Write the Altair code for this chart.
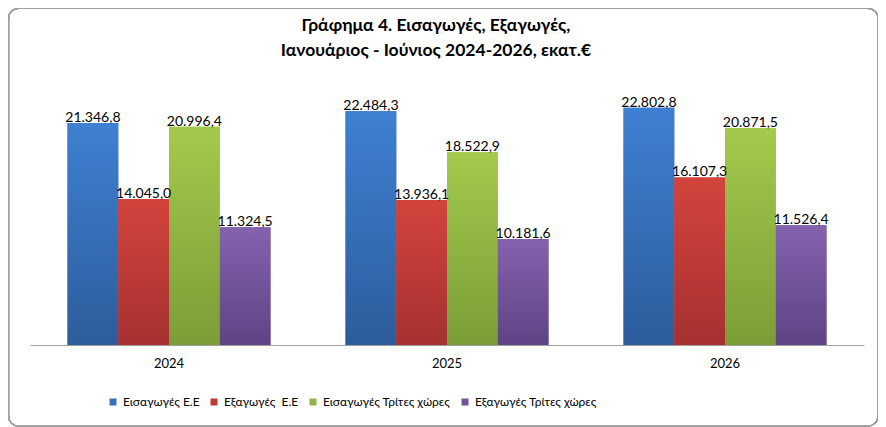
import altair as alt
import pandas as pd

years = ["2024", "2025", "2026"]
series = ["Εισαγωγές Ε.Ε", "Εξαγωγές\u00a0 Ε.Ε", "Εισαγωγές Τρίτες χώρες", "Εξαγωγές Τρίτες χώρες"]
imports_eu = [21346.8, 22484.3, 22802.8]
exports_eu = [14045.0, 13936.1, 16107.3]
imports_third = [20996.4, 18522.9, 20871.5]
exports_third = [11324.5, 10181.6, 11526.4]

mid_colors = ["#3670BA", "#BD3A36", "#8FB443", "#72549A"]
top_colors = ["#3E80D2", "#D3433D", "#A3CA4C", "#8462AE"]
bot_colors = ["#2D5C9B", "#A53130", "#7B9D38", "#5E4484"]

rows = []
for s, vals in zip(series, [imports_eu, exports_eu, imports_third, exports_third]):
    for y, v in zip(years, vals):
        lbl = f"{v:,.1f}".replace(",", "X").replace(".", ",").replace("X", ".")
        rows.append({"year": y, "series": s, "value": v, "label": lbl})
df = pd.DataFrame(rows)

FONT = "Lato"

x_enc = alt.X("year:N", sort=years,
              scale=alt.Scale(paddingInner=0.27, paddingOuter=0.135),
              axis=alt.Axis(title=None, labelAngle=0, ticks=False, domainColor="#a0a0a0",
                            labelFontSize=13, labelColor="#000000", labelFont=FONT,
                            labelPadding=12, grid=False))
xo_enc = alt.XOffset("series:N", sort=series, scale=alt.Scale(domain=series, paddingInner=0, paddingOuter=0))
y_enc = alt.Y("value:Q", scale=alt.Scale(domain=[0, 25000]), axis=None)

base = alt.Chart(df).mark_bar().encode(
    x=x_enc, xOffset=xo_enc, y=y_enc,
    color=alt.Color("series:N", sort=series,
                    scale=alt.Scale(domain=series, range=mid_colors),
                    legend=alt.Legend(title=None, orient="none", direction="horizontal",
                                      legendX=77, legendY=311, symbolType="square",
                                      symbolSize=49, symbolStrokeWidth=0,
                                      labelFontSize=12, labelFont=FONT, labelColor="#000000",
                                      columnPadding=8, symbolOffset=0, labelOffset=4)),
)

grad_layers = []
for s, t, b in zip(series, top_colors, bot_colors):
    grad_layers.append(
        alt.Chart(df).transform_filter(alt.datum.series == s).mark_bar(
            color=alt.Gradient(gradient="linear",
                               stops=[alt.GradientStop(color=t, offset=0),
                                      alt.GradientStop(color=b, offset=1)],
                               x1=0, x2=0, y1=0, y2=1)
        ).encode(x=x_enc, xOffset=xo_enc, y=y_enc)
    )

labels = alt.Chart(df).mark_text(baseline="alphabetic", dy=-1, fontSize=14, font=FONT,
                                 color="#000000").encode(
    x=x_enc, xOffset=xo_enc, y=y_enc, text="label:N")

border = alt.Chart(df).mark_rect(fill=None, stroke="#a0a0a0", strokeWidth=1.2,
                                 cornerRadius=10).encode(
    x=alt.value(-21.5), x2=alt.value(848), y=alt.value(-76.5), y2=alt.value(341))

chart = alt.layer(base, *grad_layers, labels, border).properties(
    width=834, height=260,
    title=alt.Title(["Γράφημα 4. Εισαγωγές, Εξαγωγές,", "Ιανουάριος - Ιούνιος 2024-2026, εκατ.€"],
                    font=FONT, fontSize=17.5, fontWeight="bold", color="#000000",
                    anchor="middle", offset=-52, lineHeight=25, dx=-11),
    autosize=alt.AutoSizeParams(type="none"),
    padding={"left": 22, "top": 77, "right": 14, "bottom": 82},
).configure_view(stroke=None)

chart.save("out.html", embed_options={"renderer": "svg", "actions": False})
